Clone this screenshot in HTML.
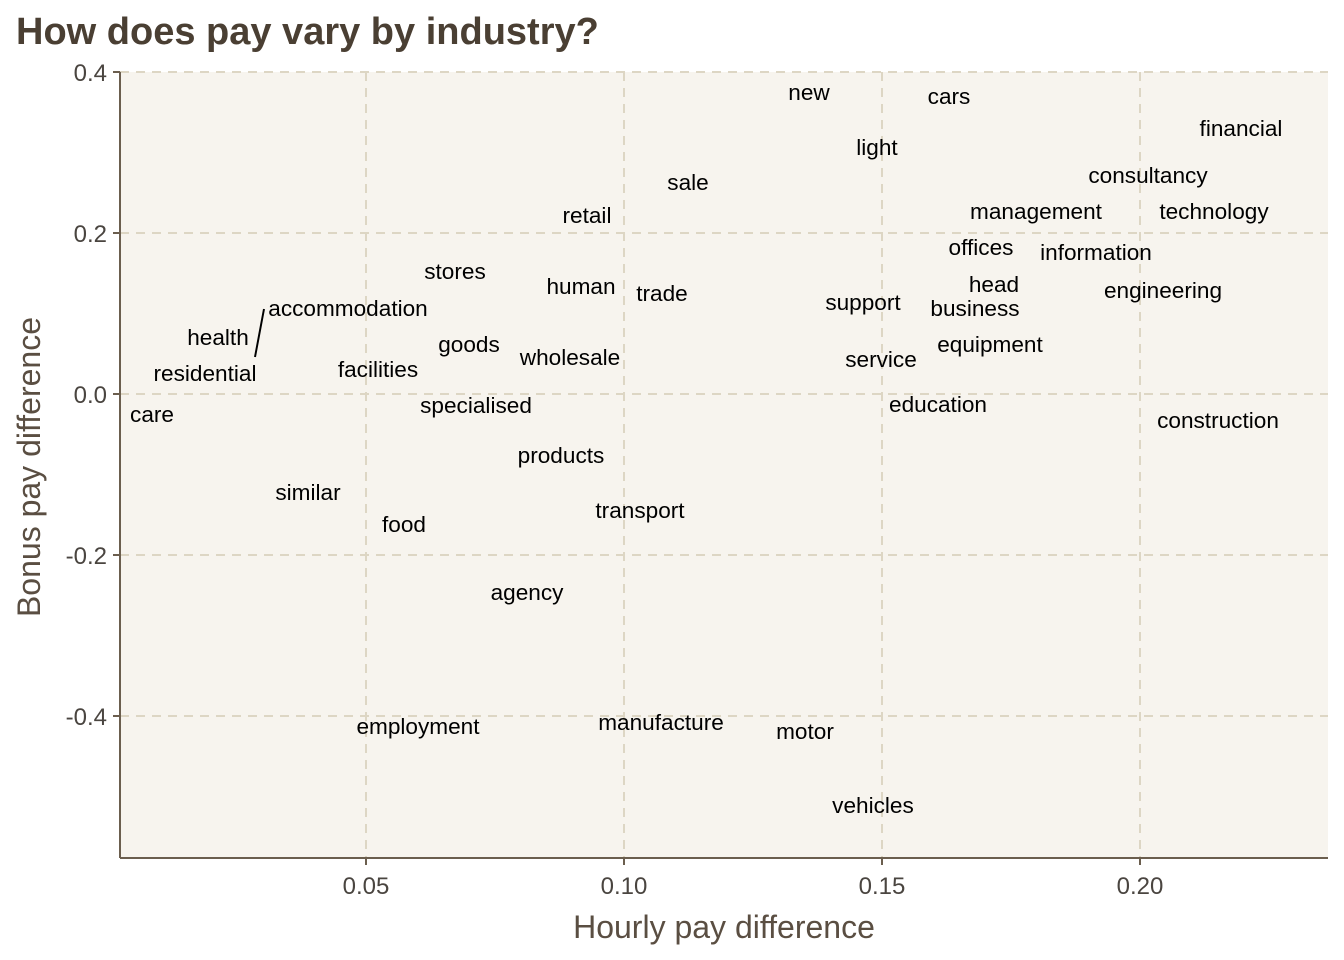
<!DOCTYPE html>
<html><head><meta charset="utf-8"><style>
body{margin:0;background:#fff;}
svg{display:block;font-family:"Liberation Sans",Arial,sans-serif;}
</style></head><body>
<svg width="1344" height="960" viewBox="0 0 1344 960">
<rect x="0" y="0" width="1344" height="960" fill="#fff"/>
<rect x="120" y="72" width="1208" height="786" fill="#f7f4ee"/>
<g stroke="#ddd6c4" stroke-width="2" stroke-dasharray="9,7">
<line x1="366" y1="72" x2="366" y2="858"/><line x1="624" y1="72" x2="624" y2="858"/>
<line x1="882" y1="72" x2="882" y2="858"/><line x1="1140" y1="72" x2="1140" y2="858"/>
<line x1="120" y1="72" x2="1328" y2="72"/><line x1="120" y1="233" x2="1328" y2="233"/>
<line x1="120" y1="394" x2="1328" y2="394"/><line x1="120" y1="555" x2="1328" y2="555"/>
<line x1="120" y1="716" x2="1328" y2="716"/>
</g>
<g stroke="#6b5e4e" stroke-width="2">
<line x1="120" y1="72" x2="120" y2="858"/><line x1="120" y1="858" x2="1328" y2="858"/>
<line x1="113" y1="72" x2="120" y2="72"/><line x1="113" y1="233" x2="120" y2="233"/><line x1="113" y1="394" x2="120" y2="394"/><line x1="113" y1="555" x2="120" y2="555"/><line x1="113" y1="716" x2="120" y2="716"/>
<line x1="366" y1="858" x2="366" y2="865"/><line x1="624" y1="858" x2="624" y2="865"/><line x1="882" y1="858" x2="882" y2="865"/><line x1="1140" y1="858" x2="1140" y2="865"/>
</g>
<g font-size="24" fill="#4a4540" text-anchor="end">
<text x="107" y="81">0.4</text><text x="107" y="242">0.2</text><text x="107" y="403">0.0</text><text x="107" y="564">-0.2</text><text x="107" y="725">-0.4</text>
</g>
<g font-size="24" fill="#4a4540" text-anchor="middle">
<text x="366" y="894">0.05</text><text x="624" y="894">0.10</text><text x="882" y="894">0.15</text><text x="1140" y="894">0.20</text>
</g>
<text x="16" y="44" font-size="38" font-weight="bold" fill="#4a3f33">How does pay vary by industry?</text>
<text x="724" y="938" font-size="32" fill="#5a4e42" text-anchor="middle">Hourly pay difference</text>
<text transform="translate(40,467) rotate(-90)" font-size="32" fill="#5a4e42" text-anchor="middle">Bonus pay difference</text>
<line x1="264" y1="309" x2="255" y2="357" stroke="#000" stroke-width="2"/>
<g font-size="22.6" fill="#000" text-anchor="middle">
<text x="809" y="100">new</text><text x="949" y="104">cars</text><text x="1241" y="136">financial</text>
<text x="1148" y="183">consultancy</text><text x="1214" y="219">technology</text><text x="1036" y="219">management</text>
<text x="877" y="155">light</text><text x="688" y="190">sale</text><text x="587" y="223">retail</text>
<text x="981" y="255">offices</text><text x="1096" y="260">information</text><text x="455" y="279">stores</text>
<text x="581" y="294">human</text><text x="662" y="301">trade</text><text x="994" y="292">head</text>
<text x="1163" y="298">engineering</text><text x="863" y="310">support</text><text x="975" y="316">business</text>
<text x="348" y="316">accommodation</text><text x="218" y="345">health</text><text x="469" y="352">goods</text>
<text x="990" y="352">equipment</text><text x="570" y="365">wholesale</text><text x="881" y="367">service</text>
<text x="205" y="381">residential</text><text x="378" y="377">facilities</text><text x="938" y="412">education</text>
<text x="476" y="413">specialised</text><text x="152" y="422">care</text><text x="1218" y="428">construction</text>
<text x="561" y="463">products</text><text x="308" y="500">similar</text><text x="404" y="532">food</text>
<text x="640" y="518">transport</text><text x="527" y="600">agency</text><text x="418" y="734">employment</text>
<text x="661" y="730">manufacture</text><text x="805" y="739">motor</text><text x="873" y="813">vehicles</text>
</g>
</svg>
</body></html>
